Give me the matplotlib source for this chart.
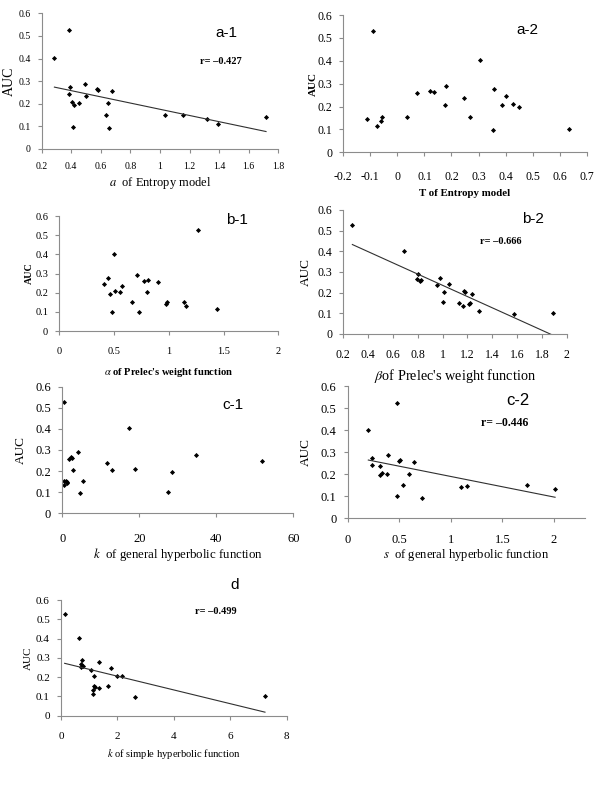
import numpy as np
import matplotlib.pyplot as plt

plt.rcParams['font.family'] = ['Liberation Serif', 'DejaVu Serif']
plt.rcParams['mathtext.fontset'] = 'stix'
plt.rcParams['axes.unicode_minus'] = False

# a-1: a of Entropy model
a1_x = [0.286, 0.387, 0.389, 0.383, 0.407, 0.416, 0.41, 0.454, 0.493, 0.50, 0.576,
        0.578, 0.633, 0.648, 0.655, 0.677, 1.034, 1.153, 1.32, 1.392, 1.717]
a1_y = [0.401, 0.527, 0.273, 0.243, 0.206, 0.193, 0.099, 0.202, 0.289, 0.236, 0.264,
        0.261, 0.150, 0.202, 0.094, 0.255, 0.150, 0.150, 0.133, 0.111, 0.140]
# a-2: T of Entropy model
a2_x = [-0.114, -0.089, -0.074, -0.062, -0.056, 0.034, 0.071, 0.121, 0.135, 0.176, 0.179,
        0.246, 0.270, 0.304, 0.352, 0.358, 0.386, 0.402, 0.426, 0.448, 0.633]
a2_y = [0.144, 0.530, 0.114, 0.135, 0.154, 0.153, 0.258, 0.269, 0.264, 0.205, 0.291,
        0.239, 0.154, 0.403, 0.099, 0.277, 0.205, 0.246, 0.210, 0.197, 0.103]
# b-1: alpha of Prelec
b1_x = [0.408, 0.444, 0.466, 0.481, 0.496, 0.508, 0.554, 0.572, 0.664, 0.706, 0.731,
        0.776, 0.807, 0.801, 0.904, 0.974, 0.983, 1.135, 1.160, 1.266, 1.440]
b1_y = [0.244, 0.274, 0.194, 0.101, 0.403, 0.208, 0.202, 0.237, 0.153, 0.290, 0.098,
        0.262, 0.267, 0.204, 0.256, 0.140, 0.150, 0.152, 0.133, 0.525, 0.113]
# b-2: beta of Prelec
b2_x = [0.273, 0.689, 0.799, 0.796, 0.816, 0.826, 0.955, 0.981, 1.003, 1.014, 1.054,
        1.130, 1.162, 1.173, 1.178, 1.210, 1.218, 1.240, 1.294, 1.578, 1.893]
b2_y = [0.526, 0.400, 0.289, 0.266, 0.255, 0.261, 0.237, 0.272, 0.153, 0.205, 0.243,
        0.150, 0.134, 0.206, 0.203, 0.143, 0.150, 0.194, 0.111, 0.097, 0.102]
# c-1: k of general hyperbolic
c1_x = [0.5, 0.5, 0.5, 0.9, 1.1, 1.3, 1.7, 2.3, 2.6, 2.9, 4.0, 4.7, 5.3, 11.5, 12.9,
        17.4, 18.8, 27.4, 28.4, 34.6, 51.8]
c1_y = [0.529, 0.134, 0.155, 0.153, 0.148, 0.145, 0.257, 0.268, 0.262, 0.205, 0.292,
        0.098, 0.155, 0.240, 0.204, 0.404, 0.208, 0.103, 0.196, 0.275, 0.246]
# c-2: s of general hyperbolic
c2_x = [0.20, 0.232, 0.238, 0.316, 0.316, 0.335, 0.377, 0.393, 0.474, 0.477, 0.50,
        0.509, 0.535, 0.59, 0.642, 0.722, 1.10, 1.158, 1.739, 2.01]
c2_y = [0.399, 0.243, 0.272, 0.236, 0.195, 0.207, 0.201, 0.289, 0.524, 0.100, 0.259,
        0.264, 0.151, 0.202, 0.254, 0.093, 0.141, 0.147, 0.150, 0.131]
# d: k of simple hyperbolic
d_x = [0.13, 0.64, 0.76, 0.71, 0.78, 0.72, 1.36, 1.05, 1.76, 1.16, 1.97, 2.17, 1.18,
       1.21, 1.14, 1.33, 1.67, 1.14, 2.64, 7.23]
d_y = [0.528, 0.402, 0.290, 0.267, 0.260, 0.255, 0.276, 0.238, 0.247, 0.205, 0.205,
       0.207, 0.154, 0.150, 0.134, 0.143, 0.154, 0.114, 0.097, 0.102]

y_ticks = [0, 0.1, 0.2, 0.3, 0.4, 0.5, 0.6]

W, H = 600, 800


def panel(box, x, y, xlim, xticks, name, name_pos, xlabel, xl_off, yl_off,
          r_text=None, r_pos=None, trend=False, tick_fs=7, lab_fs=8, auc_fs=9,
          bold=False, xpad=7, r_fs=7.5, name_fs=11):
    # box in pixels: left, right, y of 0, y of 0.6
    l, r, b, t = box
    ax = plt.gcf().add_axes([l / W, 1 - b / H, (r - l) / W, (b - t) / H])
    ax.set_xlim(*xlim)
    ax.set_ylim(0, 0.6)
    ax.set_xticks(xticks)
    ax.set_xticklabels(['%g' % v for v in xticks])
    ax.set_yticks(y_ticks)
    ax.set_yticklabels(['%g' % v for v in y_ticks])
    for s in ['top', 'right']:
        ax.spines[s].set_visible(False)
    for s in ['left', 'bottom']:
        ax.spines[s].set_color('#8c8c8c')
        ax.spines[s].set_linewidth(0.8)
    ax.tick_params(direction='out', length=3, width=0.8, color='#8c8c8c',
                   labelsize=tick_fs)
    ax.tick_params(axis='y', pad=5)
    ax.tick_params(axis='x', pad=xpad)
    ax.patch.set_alpha(0)

    ax.plot(x, y, 'D', color='black', markersize=2.6, markeredgewidth=0)
    if trend:
        k, c = np.polyfit(x, y, 1)
        xs = np.array([min(x), max(x)])
        ax.plot(xs, k * xs + c, color='#303030', lw=0.8)

    w = 'bold' if bold else 'normal'
    ax.set_xlabel(xlabel, fontsize=lab_fs, fontweight=w)
    ax.xaxis.set_label_coords(0.5, -xl_off / (b - t))
    ax.xaxis.label.set_va('center')
    ax.set_ylabel('AUC', fontsize=auc_fs, fontweight=w)
    ax.yaxis.set_label_coords(-yl_off / (r - l), 0.5)
    ax.yaxis.label.set_va('center')

    ax.text(name_pos[0], name_pos[1], name, transform=ax.transAxes, ha='center',
            va='center', fontsize=name_fs, family=['Liberation Sans', 'DejaVu Sans'])
    if r_text:
        ax.text(r_pos[0], r_pos[1], r_text, transform=ax.transAxes, ha='center',
                va='center', fontsize=r_fs, fontweight='bold')
    return ax


fig = plt.figure(figsize=(6, 8), dpi=100)

panel((41.7, 278.3, 149, 13.3), a1_x, a1_y, (0.2, 1.8),
      [0.2, 0.4, 0.6, 0.8, 1.0, 1.2, 1.4, 1.6, 1.8], 'a-1', (0.782, 0.853),
      r'$a$  of Entropy model', 34, 32, 'r= \u20130.427', (0.758, 0.648), True,
      tick_fs=7, lab_fs=9, auc_fs=10, xpad=6.5)

panel((343.3, 586.7, 152.3, 15), a2_x, a2_y, (-0.2, 0.7),
      [-0.2, -0.1, 0, 0.1, 0.2, 0.3, 0.4, 0.5, 0.6, 0.7], 'a-2', (0.756, 0.891),
      'T of Entropy model', 41, 30, tick_fs=8.5, lab_fs=7.8, auc_fs=8, bold=True,
      xpad=10.5)

panel((59.3, 278.3, 331, 216), b1_x, b1_y, (0, 2), [0, 0.5, 1, 1.5, 2], 'b-1',
      (0.81, 0.965), r"$\alpha$ of Prelec's weight function", 41, 30,
      tick_fs=7.5, lab_fs=7.6, auc_fs=7.2, bold=True, xpad=8.5)

panel((343.3, 566.7, 334, 210), b2_x, b2_y, (0.2, 2),
      [0.2, 0.4, 0.6, 0.8, 1.0, 1.2, 1.4, 1.6, 1.8, 2.0], 'b-2', (0.85, 0.925),
      r"$\beta$of Prelec's weight function", 42, 37, 'r= \u20130.666', (0.705, 0.744),
      True, tick_fs=8.5, lab_fs=10.3, auc_fs=9.5, xpad=8)

panel((62.3, 293.3, 513.3, 386.7), c1_x, c1_y, (0, 60), [0, 20, 40, 60], 'c-1',
      (0.74, 0.855), r'$k$  of general hyperbolic function', 41, 41,
      tick_fs=9, lab_fs=9.3, auc_fs=9.5, xpad=11)

panel((347.7, 585, 518.3, 386), c2_x, c2_y, (0, 2.3), [0, 0.5, 1, 1.5, 2], 'c-2',
      (0.719, 0.894), r'$s$  of general hyperbolic function', 37, 42,
      'r= \u20130.446', (0.663, 0.723), True, tick_fs=9, lab_fs=9.1, auc_fs=9.5,
      xpad=8, r_fs=8.5, name_fs=12)

panel((61, 286.7, 715.7, 600), d_x, d_y, (0, 8), [0, 2, 4, 6, 8], 'd',
      (0.771, 1.13), r'$k$ of simple hyperbolic function', 38, 33,
      'r= \u20130.499', (0.685, 0.899), True, tick_fs=8, lab_fs=7.6, auc_fs=8,
      xpad=9)

fig.savefig('out.png', dpi=100)
